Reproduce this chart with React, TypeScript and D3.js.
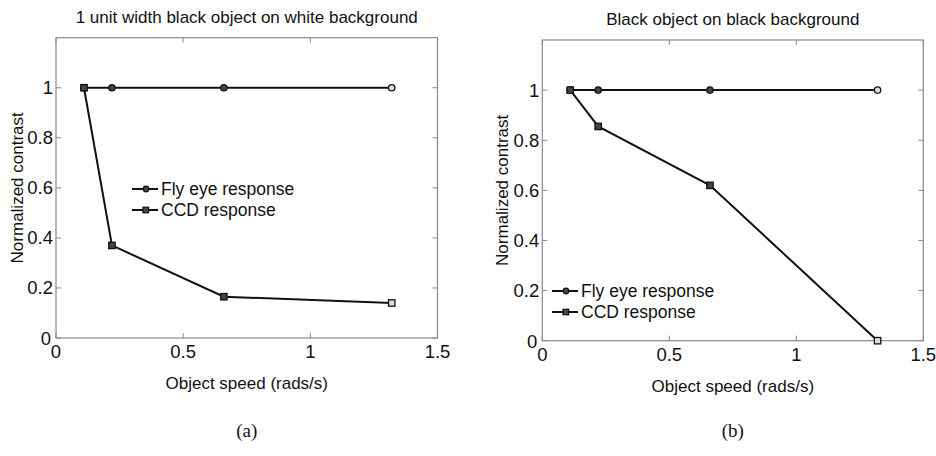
import React from "react";
import * as d3 from "d3";

// object speeds (rads/s)
const speeds = [0.11, 0.22, 0.66, 1.32];

// panel (a): 1 unit width black object on white background
const flyA = [1, 1, 1, 1];
const ccdA = [1, 0.37, 0.165, 0.14];

// panel (b): black object on black background
const flyB = [1, 1, 1, 1];
const ccdB = [1, 0.855, 0.62, 0];

const xTicks = [0, 0.5, 1, 1.5];
const yTicks = [0, 0.2, 0.4, 0.6, 0.8, 1];
const seriesNames = ["Fly eye response", "CCD response"];

const FONT = "'Liberation Sans', Arial, Helvetica, sans-serif";
const BOX = "#8a8a8a";

type PanelProps = {
  title: string;
  caption: string;
  fly: number[];
  ccd: number[];
  box: { left: number; right: number; top: number; bottom: number };
  legend: { x: number; y: number };
  ylabelX: number;
};

function Panel({ title, caption, fly, ccd, box, legend, ylabelX }: PanelProps) {
  const x = d3.scaleLinear().domain([0, 1.5]).range([box.left, box.right]);
  const y = d3.scaleLinear().domain([0, 1.2]).range([box.bottom, box.top]);
  const line = d3
    .line<number>()
    .x((_, i) => x(speeds[i]))
    .y((d) => y(d));
  const cx = (box.left + box.right) / 2;
  const tick = 5;

  return (
    <g fontFamily={FONT} fill="#111">
      {/* title */}
      <text x={cx} y={box.top - 15} textAnchor="middle" fontSize={17}>
        {title}
      </text>

      {/* box */}
      <rect
        x={box.left}
        y={box.top}
        width={box.right - box.left}
        height={box.bottom - box.top}
        fill="none"
        stroke={BOX}
        strokeWidth={1.2}
      />

      {/* x ticks, inside on bottom and top */}
      {xTicks.map((t) => (
        <g key={"x" + t}>
          <line x1={x(t)} x2={x(t)} y1={box.bottom} y2={box.bottom - tick} stroke={BOX} />
          <line x1={x(t)} x2={x(t)} y1={box.top} y2={box.top + tick} stroke={BOX} />
          <text x={x(t)} y={box.bottom + 20} textAnchor="middle" fontSize={18.5}>
            {t}
          </text>
        </g>
      ))}

      {/* y ticks, inside on left and right */}
      {yTicks.map((t) => (
        <g key={"y" + t}>
          <line x1={box.left} x2={box.left + tick} y1={y(t)} y2={y(t)} stroke={BOX} />
          <line x1={box.right} x2={box.right - tick} y1={y(t)} y2={y(t)} stroke={BOX} />
          <text
            x={t === 0 ? box.left - 5 : box.left - 3}
            y={t === 0 ? y(t) + 7 : y(t) + 6.5}
            textAnchor="end"
            fontSize={18.5}
          >
            {t}
          </text>
        </g>
      ))}

      {/* axis labels */}
      <text x={cx} y={box.bottom + 51} textAnchor="middle" fontSize={17}>
        Object speed (rads/s)
      </text>
      <text
        transform={`translate(${ylabelX},${(box.top + box.bottom) / 2}) rotate(-90)`}
        textAnchor="middle"
        fontSize={17}
      >
        Normalized contrast
      </text>

      {/* series */}
      <path d={line(fly) ?? ""} fill="none" stroke="#111" strokeWidth={2} />
      <path d={line(ccd) ?? ""} fill="none" stroke="#111" strokeWidth={2} />
      {fly.map((v, i) => (
        <circle
          key={"f" + i}
          cx={x(speeds[i])}
          cy={y(v)}
          r={3.2}
          fill={i === fly.length - 1 ? "#ddd" : "#444"}
          stroke="#111"
          strokeWidth={1.3}
        />
      ))}
      {ccd.map((v, i) => (
        <rect
          key={"c" + i}
          x={x(speeds[i]) - 3.2}
          y={y(v) - 3.2}
          width={6.4}
          height={6.4}
          fill={i === ccd.length - 1 ? "#ddd" : "#444"}
          stroke="#111"
          strokeWidth={1.3}
        />
      ))}

      {/* legend */}
      {seriesNames.map((name, i) => {
        const ly = legend.y + i * 21;
        return (
          <g key={name}>
            <line x1={legend.x} x2={legend.x + 26} y1={ly} y2={ly} stroke="#111" strokeWidth={2} />
            {i === 0 ? (
              <circle cx={legend.x + 14} cy={ly} r={2.8} fill="#444" stroke="#111" strokeWidth={1.2} />
            ) : (
              <rect x={legend.x + 11} y={ly - 2.8} width={5.6} height={5.6} fill="#444" stroke="#111" strokeWidth={1.2} />
            )}
            <text x={legend.x + 29} y={ly + 6} fontSize={17.5}>
              {name}
            </text>
          </g>
        );
      })}

      {/* caption */}
      <text
        x={cx}
        y={437}
        textAnchor="middle"
        fontSize={19}
        fontFamily="'Liberation Serif', 'Times New Roman', serif"
      >
        {caption}
      </text>
    </g>
  );
}

export default function App() {
  return (
    <svg
      width={936}
      height={456}
      style={{ position: "absolute", left: 0, top: 0, background: "#fff" }}
    >
      <Panel
        title="1 unit width black object on white background"
        caption="(a)"
        fly={flyA}
        ccd={ccdA}
        box={{ left: 56, right: 437.5, top: 37.7, bottom: 338 }}
        legend={{ x: 132, y: 189 }}
        ylabelX={23}
      />
      <Panel
        title="Black object on black background"
        caption="(b)"
        fly={flyB}
        ccd={ccdB}
        box={{ left: 542.3, right: 923.3, top: 40, bottom: 340.7 }}
        legend={{ x: 552, y: 291 }}
        ylabelX={508}
      />
    </svg>
  );
}
